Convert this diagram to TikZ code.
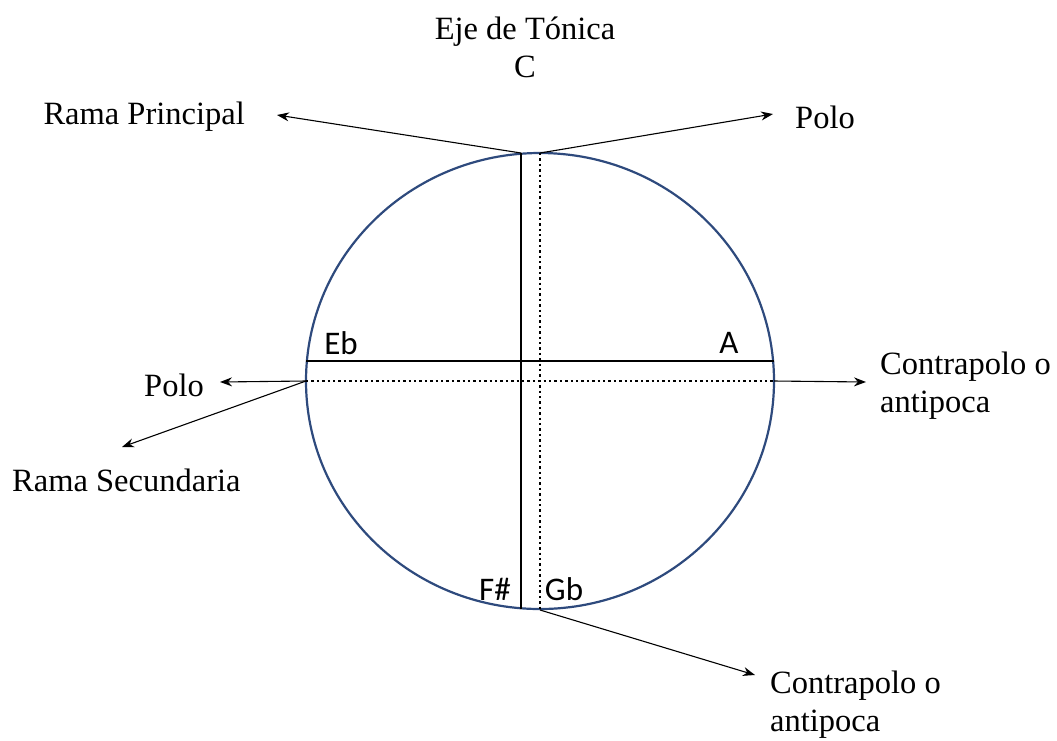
\documentclass[tikz,border=0pt]{standalone}
\usepackage{fontspec}
\setmainfont{Liberation Serif}
\newfontfamily\labsans{Carlito}
\usetikzlibrary{arrows.meta}
\definecolor{circblue}{HTML}{2E4A7D}
\tikzset{
  lbl/.style={font=\fontsize{32.5}{38}\selectfont, inner sep=0pt, align=left},
  nlbl/.style={font=\labsans\fontsize{33}{36}\selectfont, inner sep=0pt},
  axis/.style={line width=2pt, black},
  daxis/.style={line width=2.6pt, black, dash pattern=on 2.4pt off 3pt},
  arr/.style={line width=1.1pt, black, -{Stealth[length=12pt,width=9pt]}},
}
\begin{document}
\begin{tikzpicture}[x=1pt,y=-1pt]
\useasboundingbox (0,0) rectangle (1057,740);
% circle
\draw[circblue, line width=2.2pt] (540,381) ellipse [x radius=234, y radius=228];
% key points
\coordinate (t1) at (521,153);
\coordinate (b1) at (521,609);
\coordinate (t2) at (540,153);
\coordinate (b2) at (540,610);
\coordinate (l1) at (306,361);
\coordinate (r1) at (774,361);
\coordinate (l2) at (306,381);
\coordinate (r2) at (774,381);
% axes
\draw[axis] (t1) -- (b1);
\draw[daxis] (t2) -- (b2);
\draw[axis] (l1) -- (r1);
\draw[daxis] (l2) -- (r2);
% labels
\node[lbl, align=center] (eje) at (525,47) {Eje de Tónica\\C};
\node[lbl, anchor=east] (rp) at (245,117) {Rama Principal};
\node[lbl, anchor=west] (polo1) at (795,117) {Polo};
\node[lbl, anchor=east] (polo2) at (204,385) {Polo};
\node[lbl, anchor=west] (rs) at (12,480) {Rama Secundaria};
\node[lbl, anchor=west] (cp1) at (880,386) {Contrapolo o\\antipoca};
\node[lbl, anchor=west] (cp2) at (770,705) {Contrapolo o\\antipoca};
\node[nlbl] (eb) at (341,343) {Eb};
\node[nlbl] (a) at (729,343) {A};
\node[nlbl] (fs) at (495,589) {F\#};
\node[nlbl] (gb) at (564,589) {Gb};
% arrow tips
\coordinate (trp) at (277,115);
\coordinate (tp1) at (773,114);
\coordinate (tp2) at (220,382);
\coordinate (trs) at (122,447);
\coordinate (tcp1) at (866,382);
\coordinate (tcp2) at (755,675);
% arrows
\draw[arr] (t1) -- (trp);
\draw[arr] (t2) -- (tp1);
\draw[arr] (l2) -- (tp2);
\draw[arr] (l2) -- (trs);
\draw[arr] (r2) -- (tcp1);
\draw[arr] (b2) -- (tcp2);
\end{tikzpicture}
\end{document}
